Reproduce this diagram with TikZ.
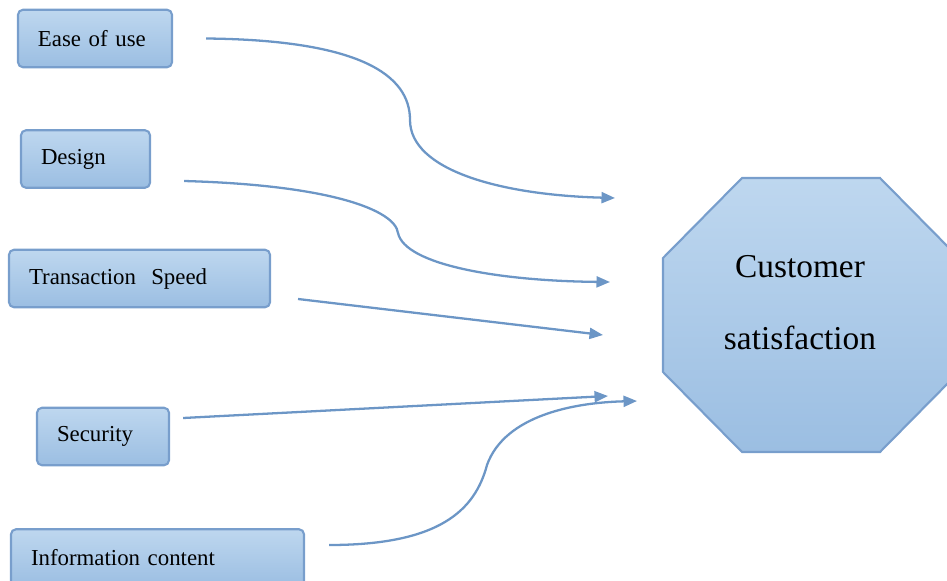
\documentclass[tikz,border=0pt]{standalone}
\usepackage{fontspec}
\setmainfont{Liberation Serif}
\usetikzlibrary{arrows.meta}

\definecolor{boxtop}{RGB}{190,215,239}
\definecolor{boxbottom}{RGB}{155,190,226}
\definecolor{boxline}{RGB}{120,158,204}
\definecolor{flowline}{RGB}{108,150,198}

\tikzset{
  factor/.style={rectangle, rounded corners=0.1cm, draw=boxline, line width=1.2pt,
    top color=boxtop, bottom color=boxbottom, minimum height=1.15cm,
    inner xsep=0.4cm, text width=#1, align=left, font=\fontsize{13}{15}\selectfont},
  octa/.style={draw=boxline, line width=1.2pt, top color=boxtop, bottom color=boxbottom},
  flow/.style={flowline, line width=1.3pt, -{Triangle[length=0.27cm,width=0.22cm]}}
}

\begin{document}
\begin{tikzpicture}

    \useasboundingbox (0,0) rectangle (18.94,-11.6);

    \node (ease)     at (1.90,-0.77)  [factor=2.28cm] {Ease of use};
    \node (design)   at (1.71,-3.18)  [factor=1.78cm] {Design};
    \node (speed)    at (2.79,-5.57)  [factor=4.42cm] {Transaction\ \ Speed};
    \node (security) at (2.06,-8.73)  [factor=1.84cm] {Security};
    \node (info)     at (3.15,-11.16) [factor=5.06cm] {Information content};

    % octagon around the goal
    \path [octa] (14.84,-3.56) -- (17.6,-3.56) -- (19.18,-5.16) -- (19.18,-7.44)
        -- (17.6,-9.04) -- (14.84,-9.04) -- (13.26,-7.44) -- (13.26,-5.16) -- cycle;
    \node (cs) at (16.0,-6.05) [align=center, font=\fontsize{19}{41}\selectfont] {Customer\\satisfaction};

    % arrow ends in front of the octagon
    \coordinate (in1) at (12.30,-3.96);
    \coordinate (in2) at (12.20,-5.64);
    \coordinate (in3) at (12.06,-6.70);
    \coordinate (in4) at (12.16,-7.92);
    \coordinate (in5) at (12.74,-8.02);

    \draw [flow] ([xshift=0.66cm]ease.east) .. controls (7.2,-0.8) and (8.2,-1.5) .. (8.2,-2.4)
        .. controls (8.2,-3.4) and (10,-3.9) .. (in1);
    \draw [flow] ([xshift=0.66cm,yshift=-0.44cm]design.east) .. controls (6.6,-3.7) and (7.9,-4.2) .. (7.96,-4.66)
        .. controls (8.1,-5.3) and (10,-5.62) .. (in2);
    \draw [flow] ([xshift=0.54cm,yshift=-0.41cm]speed.east) -- (in3);
    \draw [flow] ([xshift=0.26cm,yshift=0.37cm]security.east) -- (in4);
    \draw [flow] ([xshift=0.48cm,yshift=0.26cm]info.east) .. controls (8.8,-10.9) and (9.5,-10.2) .. (9.74,-9.3)
        .. controls (10.1,-8.3) and (11.5,-8.05) .. (in5);

\end{tikzpicture}
\end{document}
